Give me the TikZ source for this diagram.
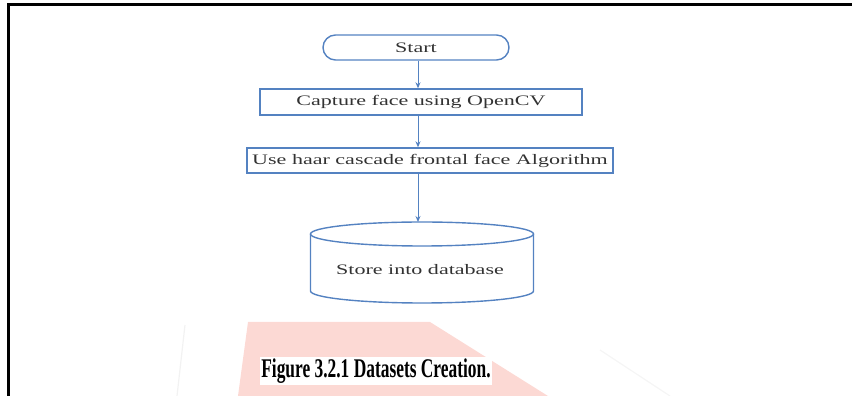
\documentclass[tikz,border=0pt]{standalone}
\usepackage{fontspec}
\setmainfont{Liberation Serif}
\usetikzlibrary{arrows.meta}
\definecolor{flowblue}{RGB}{84,130,193}
\definecolor{flowtext}{RGB}{50,50,50}
\definecolor{wmpink}{RGB}{252,217,212}
\newcommand{\widetxt}[1]{\scalebox{1.52}[1]{#1}}
\tikzset{
  flowbox/.style={draw=flowblue, line width=1.4pt, text=flowtext, inner sep=0pt,
    font=\fontsize{14.5}{16}\selectfont},
  flowarrow/.style={draw=flowblue, line width=0.9pt, -{Stealth[length=6pt,width=5pt]}},
  frameline/.style={line width=3pt, black, line join=miter}
}
\begin{document}
\begin{tikzpicture}[x=1pt,y=1pt]
\useasboundingbox (0,0) rectangle (852,396);
% watermark
\fill[wmpink] (248,74) -- (430,74) -- (548,0) -- (238,0) -- cycle;
\draw[black!5, line width=1.2pt] (185,71) -- (177,0);
\draw[black!4, line width=1.2pt] (600,46) -- (670,0);
% frame
\draw[frameline] (8,0) -- (8,391.8) -- (852,391.8);
% nodes
\node[flowbox, rounded corners=12.5pt, minimum width=186pt, minimum height=25pt] (start) at (416,348.5) {\widetxt{Start}};
\node[flowbox, minimum width=322pt, minimum height=26pt] (cap) at (421,294) {\widetxt{Capture face using OpenCV}};
\node[flowbox, minimum width=366pt, minimum height=25pt] (haar) at (430,235.5) {\widetxt{Use haar cascade frontal face Algorithm}};
% database cylinder
\node[text=flowtext, font=\fontsize{14.5}{16}\selectfont, inner sep=0pt] (db) at (420,126) {\widetxt{Store into database}};
\coordinate (dbtop) at (418,174);
\draw[draw=flowblue, line width=1.4pt] (422,162) ellipse [x radius=111.5pt, y radius=12pt];
\draw[draw=flowblue, line width=1.4pt] (310.5,162) -- (310.5,105) arc[start angle=180, end angle=360, x radius=111.5pt, y radius=12pt] -- (533.5,162);
% connectors
\draw[flowarrow] (start.south -| 418,0) -- (cap.north -| 418,0);
\draw[flowarrow] (cap.south -| 418,0) -- (haar.north -| 418,0);
\draw[flowarrow] (haar.south -| dbtop) -- (dbtop);
% caption
\node[fill=white, inner xsep=1pt, inner ysep=2pt, font=\fontsize{17.4}{20}\selectfont\bfseries] (caption) at (376,25) {\scalebox{1}[1.55]{Figure 3.2.1 Datasets Creation.}};
\end{tikzpicture}
\end{document}
